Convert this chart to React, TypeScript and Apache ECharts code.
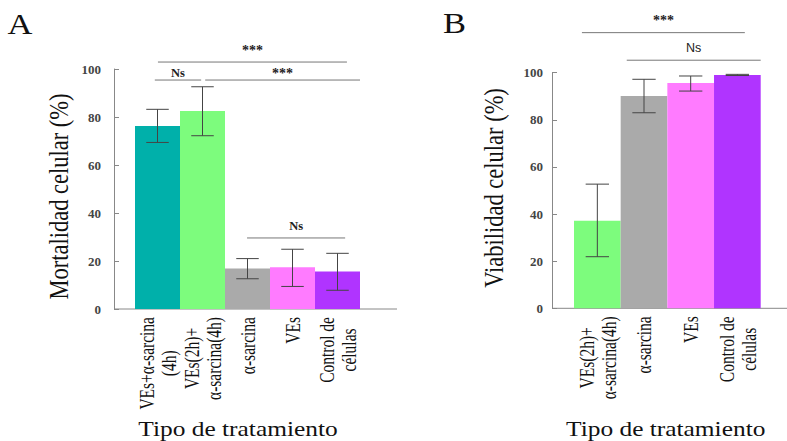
import React, { useEffect, useRef } from "react";
import * as echarts from "echarts";

// ---- Panel A data ----
const catsA = ["VEs+α-sarcina\n(4h)", "VEs(2h)+\nα-sarcina(4h)", "α-sarcina", "VEs", "Control de\ncélulas"];
const valsA = [76.3, 82.5, 16.9, 17.4, 15.6];
const errLowA = [69.4, 72.2, 12.6, 9.4, 7.8];
const errHighA = [83.2, 92.6, 21.0, 24.9, 23.2];
const colorsA = ["#00B0AA", "#7DFC7D", "#AAAAAA", "#FF7BFF", "#B034FF"];
// significance brackets (category-unit start/end, level in %, label)
const brStartA = [0.01, -0.06, 1.06, 1.99];
const brEndA = [4.21, 0.97, 4.5, 4.17];
const brLevelA = [102.9, 95.4, 95.4, 29.6];
const brLabelA = ["***", "Ns", "***", "Ns"];

// ---- Panel B data ----
const catsB = ["VEs(2h)+\nα-sarcina(4h)", "α-sarcina", "VEs", "Control de\ncélulas"];
const valsB = [37.2, 90.1, 95.6, 99.0];
const errLowB = [21.9, 83.0, 92.2, 98.8];
const errHighB = [52.7, 97.2, 98.6, 99.3];
const colorsB = ["#7DFC7D", "#AAAAAA", "#FF7BFF", "#B034FF"];
const brStartB = [-0.33, 0.63];
const brEndB = [3.16, 3.5];
const brLevelB = [117, 105.3];
const brLabelB = ["***", "Ns"];

const yTicks = { min: 0, max: 100, interval: 20 };

const SERIF = "Liberation Serif";

function labelFormatter(v: string) {
  return v
    .split("\n")
    .map((l) => `{c|${l}}`)
    .join("\n");
}

function makeXAxis(gridIndex: number, cats: string[]) {
  return {
    type: "category",
    gridIndex,
    data: cats,
    axisLine: { show: false },
    axisTick: { show: false },
    axisLabel: { show: false },
  };
}

function makeYAxis(gridIndex: number, offset: number, margin: number) {
  return {
    type: "value",
    gridIndex,
    min: yTicks.min,
    max: yTicks.max,
    interval: yTicks.interval,
    offset,
    axisLine: { show: true, lineStyle: { color: "#888", width: 1 } },
    axisTick: { show: true, inside: true, length: 5, lineStyle: { color: "#888" } },
    splitLine: { show: false },
    axisLabel: {
      margin,
      fontFamily: SERIF,
      fontSize: 13,
      fontWeight: "bold",
      color: "#444",
    },
  };
}

function barSeries(idx: number, vals: number[], colors: string[]) {
  return {
    type: "bar",
    xAxisIndex: idx,
    yAxisIndex: idx,
    barWidth: "100%",
    barCategoryGap: "0%",
    data: vals.map((v, i) => ({ value: v, itemStyle: { color: colors[i] } })),
  };
}

// category labels, placed through the category axis, rotated and stretched like the original figure
function catLabelSeries(idx: number, cats: string[]) {
  return {
    type: "custom",
    xAxisIndex: idx,
    yAxisIndex: idx,
    clip: false,
    z: 7,
    encode: { x: 0, y: 1 },
    data: cats.map((c, i) => [i, 0]),
    renderItem: (params: any, api: any) => {
      const p = api.coord([api.value(0), 0]);
      return {
        type: "text",
        x: p[0],
        y: p[1] + 8,
        rotation: Math.PI / 2,
        scaleY: 1.4,
        style: {
          text: labelFormatter(cats[params.dataIndex]),
          fontFamily: SERIF,
          fontSize: 15.5,
          fill: "#111",
          align: "right",
          verticalAlign: "middle",
          rich: {
            c: {
              fontFamily: SERIF,
              fontSize: 15.5,
              lineHeight: 15.5,
              fill: "#111",
              align: "center",
            },
          },
        },
      };
    },
  };
}

function errSeries(idx: number, lows: number[], highs: number[]) {
  return {
    type: "custom",
    xAxisIndex: idx,
    yAxisIndex: idx,
    clip: false,
    z: 5,
    encode: { x: 0, y: [1, 2] },
    data: lows.map((l, i) => [i, l, highs[i]]),
    renderItem: (params: any, api: any) => {
      const x = api.value(0);
      const top = api.coord([x, api.value(2)]);
      const bot = api.coord([x, api.value(1)]);
      const half = api.size([1, 0])[0] * 0.25;
      const st = { stroke: "#444", lineWidth: 1 };
      return {
        type: "group",
        children: [
          { type: "line", shape: { x1: top[0], y1: top[1], x2: bot[0], y2: bot[1] }, style: st },
          { type: "line", shape: { x1: top[0] - half, y1: top[1], x2: top[0] + half, y2: top[1] }, style: st },
          { type: "line", shape: { x1: bot[0] - half, y1: bot[1], x2: bot[0] + half, y2: bot[1] }, style: st },
        ],
      };
    },
  };
}

function bracketSeries(
  idx: number,
  starts: number[],
  ends: number[],
  levels: number[],
  labels: string[],
  sansNs: boolean
) {
  return {
    type: "custom",
    xAxisIndex: idx,
    yAxisIndex: idx,
    clip: false,
    z: 6,
    encode: { x: 0, y: 1 },
    data: levels.map((lv, i) => [0, lv, starts[i], ends[i]]),
    renderItem: (params: any, api: any) => {
      const i = params.dataIndex;
      const p0 = api.coord([0, api.value(1)]);
      const band = api.size([1, 0])[0];
      const x1 = p0[0] + api.value(2) * band;
      const x2 = p0[0] + api.value(3) * band;
      const lab = labels[i];
      const isStars = lab === "***";
      const gap = idx === 0 && i > 0 && i < 3 ? 7 : 12;
      return {
        type: "group",
        children: [
          {
            type: "line",
            shape: { x1, y1: p0[1], x2, y2: p0[1] },
            style: { stroke: "#777", lineWidth: 1 },
          },
          {
            type: "text",
            x: (x1 + x2) / 2,
            y: p0[1] - gap,
            style: {
              text: lab,
              fontFamily: sansNs && !isStars ? "Liberation Sans" : SERIF,
              fontWeight: sansNs && !isStars ? "normal" : "bold",
              fontSize: isStars ? 14 : 12.5,
              fill: "#222",
              align: "center",
              verticalAlign: "middle",
            },
          },
        ],
      };
    },
  };
}

export default function App() {
  const ref = useRef<HTMLDivElement>(null);
  useEffect(() => {
    if (!ref.current) return;
    const chart = echarts.init(ref.current, null, { renderer: "svg" });
    const titleStyle = { fontFamily: SERIF, fill: "#111", align: "center", verticalAlign: "middle" };
    chart.setOption({
      animation: false,
      backgroundColor: "#fff",
      grid: [
        { left: 135, top: 69, width: 225, height: 240 },
        { left: 574, top: 72.7, width: 186.7, height: 235.6 },
      ],
      xAxis: [makeXAxis(0, catsA), makeXAxis(1, catsB)],
      yAxis: [makeYAxis(0, 21, 13), makeYAxis(1, 22, 9)],
      series: [
        barSeries(0, valsA, colorsA),
        errSeries(0, errLowA, errHighA),
        bracketSeries(0, brStartA, brEndA, brLevelA, brLabelA, false),
        catLabelSeries(0, catsA),
        barSeries(1, valsB, colorsB),
        errSeries(1, errLowB, errHighB),
        bracketSeries(1, brStartB, brEndB, brLevelB, brLabelB, true),
        catLabelSeries(1, catsB),
      ],
      graphic: [
        { type: "line", shape: { x1: 114, y1: 309, x2: 397, y2: 309 }, style: { stroke: "#888", lineWidth: 1 } },
        { type: "line", shape: { x1: 552, y1: 308.3, x2: 787, y2: 308.3 }, style: { stroke: "#888", lineWidth: 1 } },
        { type: "text", x: 20, y: 24, scaleX: 1.15, style: { ...titleStyle, text: "A", fontSize: 30 } },
        { type: "text", x: 454.5, y: 23, scaleX: 1.15, style: { ...titleStyle, text: "B", fontSize: 30 } },
        {
          type: "text",
          x: 58.5,
          y: 196.5,
          rotation: Math.PI / 2,
          scaleY: 1.25,
          style: { ...titleStyle, text: "Mortalidad celular (%)", fontSize: 22.5 },
        },
        {
          type: "text",
          x: 494,
          y: 188,
          rotation: Math.PI / 2,
          scaleY: 1.25,
          style: { ...titleStyle, text: "Viabilidad celular (%)", fontSize: 22.5 },
        },
        { type: "text", x: 238, y: 429, scaleY: 0.82, style: { ...titleStyle, text: "Tipo de tratamiento", fontSize: 25.4 } },
        { type: "text", x: 665.7, y: 429, scaleY: 0.82, style: { ...titleStyle, text: "Tipo de tratamiento", fontSize: 25.4 } },
      ],
    });
    return () => chart.dispose();
  }, []);
  return (
    <div
      ref={ref}
      style={{ position: "fixed", left: 0, top: 0, width: 787, height: 441, background: "#fff" }}
    />
  );
}
